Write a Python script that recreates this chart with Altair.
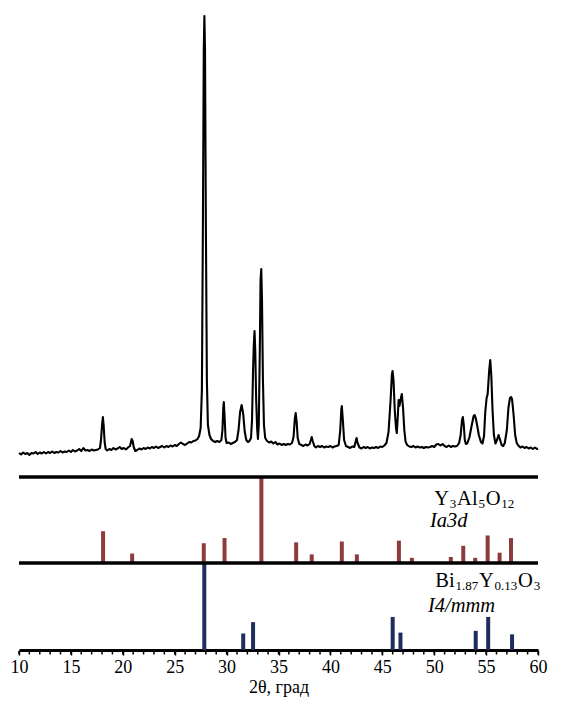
import altair as alt
import pandas as pd

# --- XRD pattern (2theta in degrees, intensity in arbitrary units) ---
xrd_deg = [10.0, 10.2, 10.4, 10.6, 10.8, 11.0, 11.2, 11.4, 11.6, 11.8, 12.0, 12.2, 12.4, 12.6, 12.8,
           13.0, 13.2, 13.4, 13.6, 13.8, 14.0, 14.2, 14.4, 14.6, 14.8, 15.0, 15.2, 15.4, 15.6, 15.8,
           16.0, 16.2, 16.4, 16.6, 16.8, 17.0, 17.2, 17.4, 17.6, 17.8, 17.9, 18.0, 18.08, 18.16, 18.25,
           18.35, 18.5, 18.7, 18.9, 19.1, 19.3, 19.5, 19.7, 19.9, 20.1, 20.3, 20.5, 20.7, 20.85, 20.95,
           21.05, 21.2, 21.4, 21.6, 21.8, 22.0, 22.2, 22.4, 22.6, 22.8, 23.0, 23.2, 23.4, 23.6, 23.8,
           24.0, 24.2, 24.4, 24.6, 24.8, 25.0, 25.2, 25.4, 25.6, 25.8, 26.0, 26.2, 26.4, 26.6, 26.8,
           27.0, 27.2, 27.35, 27.5, 27.62, 27.72, 27.8, 27.86, 27.92, 28.0, 28.1, 28.2, 28.35, 28.5, 28.7,
           28.9, 29.1, 29.3, 29.5, 29.6, 29.68, 29.73, 29.8, 29.9, 30.0, 30.2, 30.4, 30.6, 30.8, 31.0,
           31.15, 31.3, 31.45, 31.6, 31.75, 31.9, 32.05, 32.2, 32.35, 32.45, 32.55, 32.62, 32.69, 32.76, 32.85,
           32.95, 33.02, 33.1, 33.2, 33.27, 33.34, 33.41, 33.5, 33.6, 33.72, 33.9, 34.1, 34.3, 34.5, 34.7,
           34.9, 35.1, 35.3, 35.5, 35.7, 35.9, 36.1, 36.3, 36.45, 36.58, 36.66, 36.75, 36.85, 37.0, 37.2,
           37.4, 37.6, 37.8, 38.0, 38.12, 38.2, 38.3, 38.45, 38.6, 38.8, 39.0, 39.2, 39.4, 39.6, 39.8,
           40.0, 40.2, 40.4, 40.6, 40.8, 40.95, 41.05, 41.1, 41.2, 41.32, 41.5, 41.7, 41.9, 42.1, 42.3,
           42.42, 42.52, 42.62, 42.8, 43.0, 43.2, 43.4, 43.6, 43.8, 44.0, 44.2, 44.4, 44.6, 44.8, 45.0,
           45.2, 45.4, 45.6, 45.8, 45.92, 45.99, 46.08, 46.2, 46.32, 46.4, 46.5, 46.57, 46.65, 46.75, 46.88,
           47.0, 47.12, 47.25, 47.4, 47.6, 47.8, 48.0, 48.2, 48.4, 48.6, 48.8, 49.0, 49.2, 49.4, 49.6,
           49.8, 50.0, 50.2, 50.4, 50.6, 50.8, 51.0, 51.2, 51.4, 51.6, 51.8, 52.0, 52.2, 52.4, 52.55,
           52.68, 52.76, 52.85, 52.95, 53.05, 53.2, 53.4, 53.6, 53.8, 53.9, 54.0, 54.15, 54.3, 54.5, 54.65,
           54.8, 54.92, 55.05, 55.15, 55.3, 55.4, 55.5, 55.62, 55.75, 55.9, 56.05, 56.2, 56.35, 56.5, 56.65,
           56.8, 57.0, 57.15, 57.3, 57.4, 57.5, 57.65, 57.8, 57.95, 58.1, 58.3, 58.5, 58.7, 58.9, 59.1,
           59.3, 59.5, 59.7, 59.9, 60.0]
xrd_int = [17, 15.5, 17.5, 16, 17, 15, 17, 16.5, 18, 16, 17.5, 16.5, 18, 16.5, 18,
           17, 18.5, 17, 18, 17.5, 19, 17.5, 18.5, 18, 19.5, 18, 20, 18.5, 19.5, 21,
           19, 22, 19.5, 20, 19, 20.5, 19.5, 20, 20.5, 22, 30, 45, 53, 44, 28,
           21, 19.5, 21, 20, 22, 20.5, 21.5, 23, 21, 22, 20.5, 22.5, 24, 31, 29,
           23, 19, 20, 21.5, 20.5, 22, 21, 22.5, 21.5, 23, 22, 23.5, 22, 23, 24,
           22.5, 24, 23, 24.5, 23.5, 25, 24, 26, 27.5, 26, 25, 26.5, 28, 27.5, 29,
           29.5, 31, 34, 42, 80, 250, 420, 454, 420, 250, 90, 45, 35, 31, 29,
           28, 29, 28, 30, 40, 62, 68, 55, 32, 27, 27.5, 26, 27, 28, 30,
           40, 58, 65, 56, 38, 30, 28, 29, 32, 50, 100, 125, 139, 120, 70,
           40, 31, 45, 120, 190, 201, 170, 90, 45, 32, 29, 27.5, 28.5, 26.5, 28,
           25.5, 26.5, 25, 26, 25, 26, 25.5, 27, 33, 52, 57, 48, 32, 26, 25,
           24, 25.5, 24.5, 26, 30, 33, 29, 24, 22.5, 24, 23, 24, 22.5, 23.5, 23,
           24, 22.5, 23.5, 24, 25, 40, 60, 64, 50, 30, 24, 23, 22, 23.5, 23,
           28, 32, 27, 22.5, 21.5, 23, 22, 23, 21.5, 22.5, 22, 23, 22, 23.5, 23,
           24.5, 27, 38, 70, 95, 99, 90, 60, 42, 37, 55, 70, 64, 70, 76,
           62, 40, 28, 25, 23.5, 23, 24, 22.5, 23.5, 22.5, 23, 22, 23, 22.5, 23,
           24, 23, 25.5, 26, 24.5, 26, 24, 23, 24.5, 23, 24, 23.5, 24, 27, 35,
           50, 53, 45, 30, 26, 27, 33, 44, 54, 55, 52, 44, 35, 28, 26.5,
           34, 58, 72, 76, 100, 110, 95, 60, 35, 26.5, 30, 35, 30, 25, 24,
           27, 40, 62, 72, 73, 71, 55, 35, 27, 24.5, 22.5, 23.5, 22, 23, 21.5,
           22.5, 21, 22.5, 21, 21.5]

# --- Reference stick patterns (relative intensities) ---
yag_pos = [18.1, 20.9, 27.8, 29.8, 33.35, 36.7, 38.2, 41.1, 42.55, 46.6, 47.85, 51.6, 52.8,
           53.95, 55.15, 56.3, 57.4]
yag_int = [0.37, 0.11, 0.23, 0.29, 1.0, 0.24, 0.10, 0.25, 0.10, 0.26, 0.06, 0.07, 0.20,
           0.06, 0.32, 0.12, 0.29]
bi_pos = [27.85, 31.6, 32.55, 46.0, 46.75, 54.0, 55.2, 57.5]
bi_int = [1.0, 0.19, 0.32, 0.38, 0.20, 0.22, 0.38, 0.18]

# --- Labels: (text, is_subscript) pieces ---
yag_formula = [("Y", False), ("3", True), ("Al", False), ("5", True), ("O", False), ("12", True)]
yag_group = "Ia3d"
bi_formula = [("Bi", False), ("1.87", True), ("Y", False), ("0.13", True), ("O", False), ("3", True)]
bi_group = "I4/mmm"
x_title = "2θ, град"
x_major = list(range(10, 61, 5))
x_minor = list(range(10, 61))

RED = "#8e3b3b"
BLUE = "#1f2d5c"
SERIF = "'Liberation Serif', 'Times New Roman', serif"
MAIN_FS = 20.5
SUB_FS = 13
SUB_DY = 3.5
GAP = 0.8

# Times / Liberation Serif advance widths (em)
EM = {"Y": 0.722, "A": 0.722, "l": 0.278, "O": 0.722, "B": 0.667, "i": 0.278, ".": 0.25}
for d in "0123456789":
    EM[d] = 0.5

xrd = pd.DataFrame({"deg": xrd_deg, "I": xrd_int})
yag = pd.DataFrame({"deg": yag_pos, "rel": yag_int})
bi = pd.DataFrame({"deg": bi_pos, "rel": bi_int})
minor = pd.DataFrame({"deg": x_minor})
one = pd.DataFrame({"k": [0]})

W = 519
H3 = 87
xscale = alt.Scale(domain=[10, 60], nice=False, zero=False)
yscale = alt.Scale(domain=[0, 1], nice=False)

# Top panel: experimental pattern
p1 = alt.Chart(xrd).mark_line(color="black", strokeWidth=2.1, strokeJoin="round").encode(
    x=alt.X("deg:Q", scale=xscale, axis=None),
    y=alt.Y("I:Q", scale=alt.Scale(domain=[0, 460], nice=False, zero=False), axis=None),
).properties(width=W, height=460)


def rich_text(pieces, x0, y0):
    layers = []
    off = 0.0
    for txt, sub in pieces:
        fs = SUB_FS if sub else MAIN_FS
        layers.append(
            alt.Chart(one).mark_text(font=SERIF, fontSize=fs, align="left", baseline="alphabetic",
                                     color="black", dx=off, dy=SUB_DY if sub else 0).encode(
                x=alt.datum(x0), y=alt.datum(y0), text=alt.value(txt)
            )
        )
        off += sum(EM[c] for c in txt) * fs + GAP
    return layers


def stick_panel(df, color, formula, fpos, group, gpos, axis):
    sticks = alt.Chart(df).mark_rule(color=color, strokeWidth=4, strokeCap="butt").encode(
        x=alt.X("deg:Q", scale=xscale, axis=axis),
        y=alt.Y("rel:Q", scale=yscale, axis=None),
        y2=alt.datum(0),
    )
    top_line = alt.Chart(one).mark_rule(color="black", strokeWidth=3.5).encode(
        x=alt.datum(10), x2=alt.datum(60), y=alt.value(0)
    )
    g = alt.Chart(one).mark_text(font=SERIF, fontSize=MAIN_FS, fontStyle="italic", align="left",
                                 baseline="alphabetic", color="black").encode(
        x=alt.datum(gpos[0]), y=alt.datum(gpos[1]), text=alt.value(group)
    )
    return [sticks, top_line, g] + rich_text(formula, fpos[0], fpos[1])


x_axis = alt.Axis(values=x_major, title=x_title, grid=False, format="d")

p2 = alt.layer(*stick_panel(yag, RED, yag_formula, (50.0, 0.675), yag_group, (49.6, 0.415),
                            None)).properties(width=W, height=86)

minor_ticks = alt.Chart(minor).mark_rule(color="black", strokeWidth=1.5).encode(
    x=alt.X("deg:Q", scale=xscale),
    y=alt.value(H3 + 1), y2=alt.value(H3 + 4.5),
)
p3 = alt.layer(*stick_panel(bi, BLUE, bi_formula, (50.1, 0.725), bi_group, (49.4, 0.44),
                            x_axis), minor_ticks).properties(width=W, height=H3)

chart = alt.vconcat(
    p1,
    alt.vconcat(p2, p3, spacing=0, bounds="flush"),
    spacing=7,
    bounds="flush",
).properties(
    padding={"left": 2, "top": 2, "right": 5, "bottom": 5},
    background="white",
).configure_view(
    stroke="transparent", strokeWidth=0
).configure_axisX(
    domainColor="black", domainWidth=3,
    tickColor="black", tickWidth=1.5, tickSize=5,
    labelFont=SERIF, labelFontSize=18, labelColor="black",
    labelPadding=3, labelOverlap=False, labelFlush=False, labelBound=False,
    titleFont=SERIF, titleFontSize=18, titleFontWeight="normal",
    titleColor="black", titlePadding=2,
)

chart.save("out.html", embed_options={"renderer": "svg", "actions": False})
